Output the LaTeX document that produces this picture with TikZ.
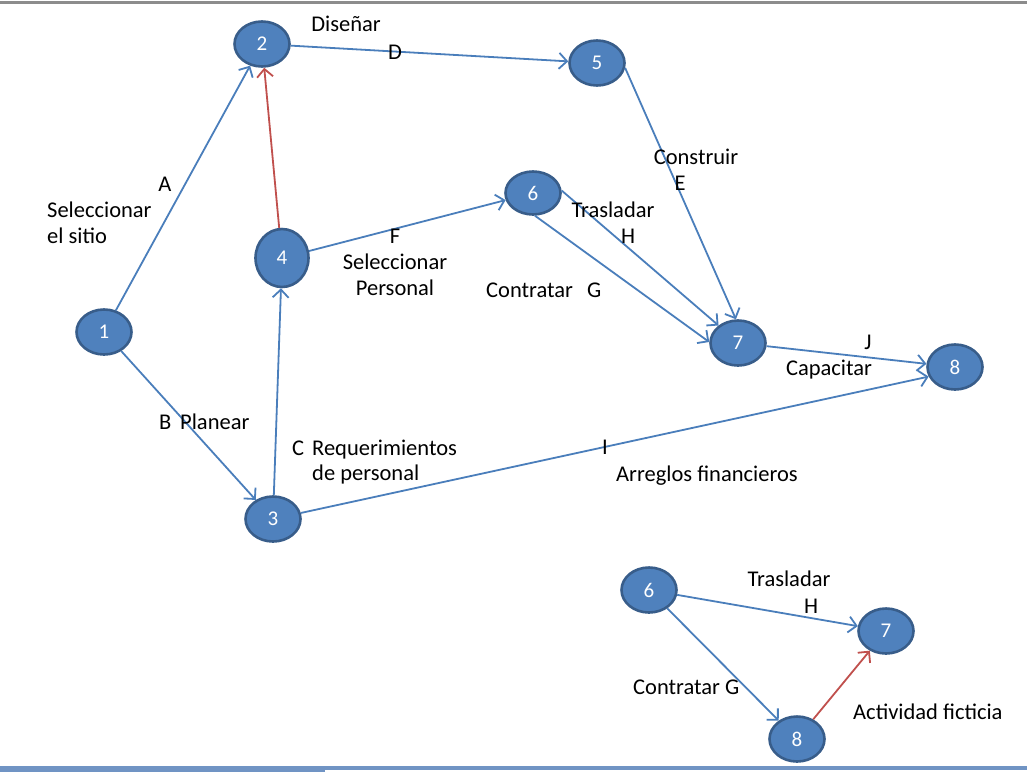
\documentclass[tikz,border=0pt]{standalone}
\usepackage{fontspec}
\setmainfont{Carlito}
\usetikzlibrary{shapes.geometric,arrows.meta}

\definecolor{relleno}{HTML}{4F81BD}
\definecolor{borde}{HTML}{385D8A}
\definecolor{linea}{HTML}{4A7EBB}
\definecolor{ficticia}{HTML}{C0504D}
\definecolor{barra}{HTML}{7094C4}

\tikzset{
  evento/.style={ellipse, draw=borde, fill=relleno, line width=2.6pt,
    minimum width=55, minimum height=45, inner sep=0pt,
    text=white, font=\fontsize{21}{21}\selectfont},
  flecha/.style={draw=linea, line width=1.8pt,
    -{Straight Barb[length=8pt,width=16pt,line width=1.8pt]}},
  falsa/.style={flecha, draw=ficticia},
  etiqueta/.style={font=\fontsize{22.5}{26}\selectfont, inner sep=0pt},
  palabra/.style={etiqueta, text height=16pt, text depth=2pt}
}

\begin{document}
\begin{tikzpicture}[x=1pt, y=-1pt]
\useasboundingbox (0,0) rectangle (1027,772);

% Bordes de la diapositiva
\fill[gray!90] (0,0.5) rectangle (1027,3.5);
\fill[barra] (0,765.5) rectangle (325,772);
\fill[barra] (325,765.5) rectangle (1027,769.5);

% Red principal: eventos
\node[evento] (n1) at (104,332) {1};
\node[evento] (n2) at (262,44) {2};
\node[evento] (n3) at (273,519) {3};
\node[evento, minimum width=53, minimum height=58] (n4) at (282,258) {4};
\node[evento] (n5) at (597,63) {5};
\node[evento, minimum height=43] (n6) at (533,193) {6};
\node[evento] (n7) at (738,343) {7};
\node[evento] (n8) at (955,367) {8};

% Actividades
\draw[flecha] (n1) -- (n2);
\draw[flecha] (n1) -- (n3);
\draw[flecha] (n3) -- (n4);
\draw[falsa] (n4) -- (n2);
\draw[flecha] (n2) -- (n5);
\draw[flecha] (n4) -- (n6);
\draw[flecha] (n5.-10) -- (n7.95);
\draw[flecha] (n6.5) -- (n7.138);
\draw[flecha] (n6.-85) -- (n7.178);
\draw[flecha] (n7) -- (n8);
\draw[flecha] (n3) -- (n8.200);

% Textos de las actividades
\node[palabra] (tD1) at (346,24) {Diseñar};
\node[palabra] (tD2) at (395,52) {D};
\node[palabra] (tA1) at (165,184) {A};
\node[etiqueta, align=left, anchor=west] (tA2) at (47,223) {Seleccionar\\el sitio};
\node[palabra] (tE1) at (696,157) {Construir};
\node[palabra] (tE2) at (680,183) {E};
\node[palabra] (tH1) at (613,210) {Trasladar};
\node[palabra] (tH2) at (628,236) {H};
\node[palabra] (tF1) at (395,236) {F};
\node[etiqueta, align=center] (tF2) at (395,275) {Seleccionar\\Personal};
\node[palabra, anchor=west] (tG1) at (486,290) {Contratar};
\node[palabra, anchor=west] (tG2) at (587,290) {G};
\node[palabra] (tJ1) at (868,342) {J};
\node[palabra] (tJ2) at (829,368) {Capacitar};
\node[palabra, anchor=west] (tB1) at (159,422) {B};
\node[palabra, anchor=west] (tB2) at (180,422) {Planear};
\node[palabra, anchor=west] (tC1) at (292,448) {C};
\node[palabra, anchor=west] (tC2) at (312,448) {Requerimientos};
\node[palabra, anchor=west] (tC3) at (312,473) {de personal};
\node[palabra] (tI1) at (605,447) {I};
\node[palabra, anchor=west] (tI2) at (616,474) {Arreglos financieros};

% Detalle: actividad ficticia
\node[evento] (m6) at (649,590) {6};
\node[evento] (m7) at (886,631) {7};
\node[evento] (m8) at (797,739) {8};
\draw[flecha] (m6) -- (m7);
\draw[flecha] (m6) -- (m8);
\draw[falsa] (m8) -- (m7);
\node[palabra] (tH3) at (789,579) {Trasladar};
\node[palabra] (tH4) at (811,606) {H};
\node[palabra, anchor=west] (tG3) at (633,687) {Contratar G};
\node[palabra, anchor=west] (tX) at (853,712) {Actividad ficticia};
\end{tikzpicture}
\end{document}
